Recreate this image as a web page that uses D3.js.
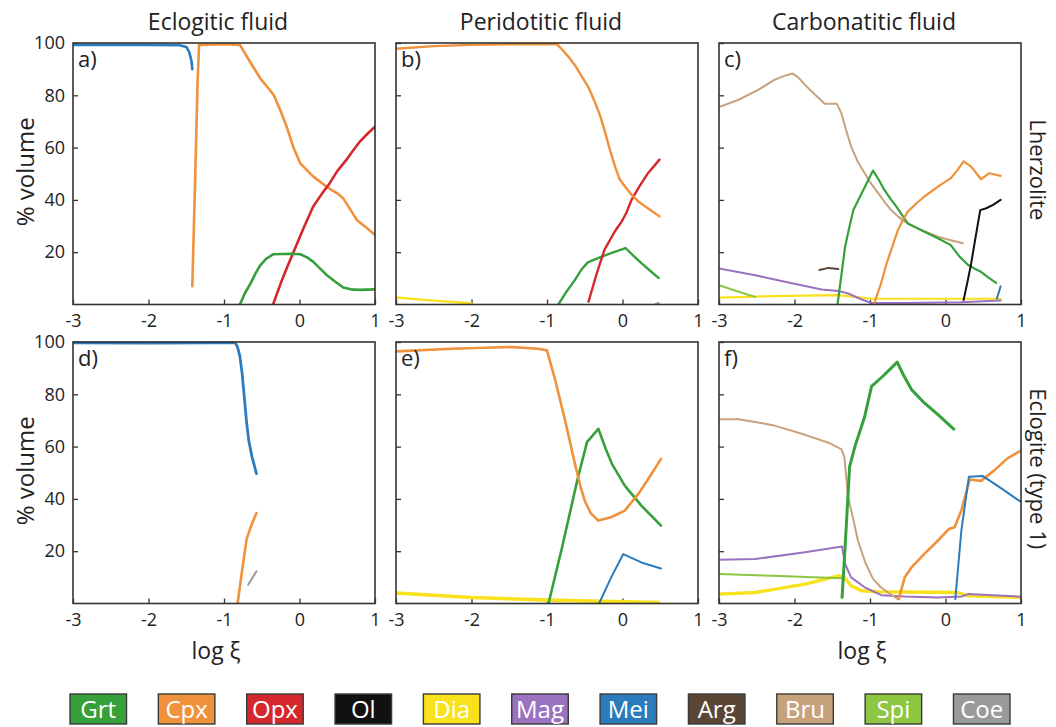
<!DOCTYPE html>
<html>
<head>
<meta charset="utf-8">
<script src="https://cdn.jsdelivr.net/npm/d3@7"></script>
<style>
  html, body { margin: 0; padding: 0; background: #fff; }
  svg text { font-family: "Open Sans", "Noto Sans", sans-serif; fill: #222; }
  .legend text { font-family: "Liberation Sans Narrow", "Open Sans", sans-serif; fill: #fff; }
</style>
</head>
<body>
<svg id="chart" width="1056" height="727"></svg>
<script>
// ---- labels and ticks ----
const columnTitles = ["Eclogitic fluid", "Peridotitic fluid", "Carbonatitic fluid"];
const rowTitles = ["Lherzolite", "Eclogite (type 1)"];
const panelLetters = ["a)", "b)", "c)", "d)", "e)", "f)"];
const xTicks = [-3, -2, -1, 0, 1];
const yTicks = [20, 40, 60, 80, 100];
const phases = ["Grt", "Cpx", "Opx", "Ol", "Dia", "Mag", "Mei", "Arg", "Bru", "Spi", "Coe"];
const phaseColors = ["#36a03b", "#f0913b", "#d4282e", "#111111", "#f9e21b", "#9a72bf", "#2b7bbd", "#5b4636", "#c8a27c", "#8dc641", "#9a9a9a"];

// ---- a) lherzolite + eclogitic fluid: [log xi, % volume] ----
const aMei = [[-3, 99.3], [-2, 99.3], [-1.6, 99.2], [-1.5, 98.5], [-1.46, 96.5], [-1.43, 93], [-1.42, 90]];
const aCpx = [[-1.42, 7], [-1.38, 50], [-1.35, 85], [-1.33, 99.3], [-1.0, 99.5], [-0.79, 99.3], [-0.7, 95], [-0.63, 91.6], [-0.52, 86.5], [-0.42, 83], [-0.34, 80], [-0.25, 74], [-0.17, 68], [-0.08, 60], [0.01, 54], [0.18, 49], [0.36, 45], [0.5, 42.5], [0.58, 40.6], [0.68, 36], [0.76, 32.3], [0.88, 29.5], [1.0, 26.6]];
const aOpx = [[-0.35, 0], [-0.25, 8], [-0.16, 14.5], [-0.08, 20], [0.05, 29], [0.18, 37.4], [0.3, 42.5], [0.40, 46.4], [0.5, 51], [0.62, 55.3], [0.7, 58.5], [0.80, 62.3], [0.9, 65.3], [1.0, 68]];
const aGrt = [[-0.79, 0], [-0.72, 4.5], [-0.65, 8], [-0.58, 12], [-0.52, 15], [-0.44, 17.5], [-0.35, 19.2], [-0.1, 19.4], [0.01, 19.2], [0.1, 18], [0.18, 16.4], [0.27, 13.8], [0.36, 11.3], [0.47, 8.8], [0.58, 6.5], [0.68, 5.8], [0.80, 5.6], [1.0, 5.8]];

// ---- b) lherzolite + peridotitic fluid ----
const bCpx = [[-3, 97.8], [-2.5, 98.8], [-2, 99.3], [-1.5, 99.5], [-0.87, 99.6], [-0.8, 97.5], [-0.72, 94.9], [-0.63, 91.5], [-0.54, 87.2], [-0.45, 83], [-0.37, 77.7], [-0.3, 72.5], [-0.24, 66.8], [-0.17, 59.5], [-0.10, 52.8], [-0.04, 48], [0.03, 45.2], [0.12, 42], [0.21, 39.4], [0.35, 36.5], [0.49, 33.7]];
const bOpx = [[-0.45, 1.1], [-0.35, 11], [-0.24, 20.9], [-0.1, 28], [-0.01, 31.8], [0.05, 35], [0.12, 40], [0.22, 45], [0.34, 50.3], [0.42, 53], [0.49, 55.4]];
const bGrt = [[-0.85, 0], [-0.74, 5], [-0.63, 9.4], [-0.54, 13.5], [-0.46, 16.1], [-0.3, 18], [-0.15, 19.6], [0.04, 21.6], [0.15, 18.5], [0.25, 15.8], [0.37, 12.8], [0.48, 10.1]];
const bDia = [[-3, 2.7], [-2.5, 1.5], [-2, 0.5]];
const bCoe = [[0.44, 0.2], [0.48, 0.6]];

// ---- c) lherzolite + carbonatitic fluid ----
const cBru = [[-3, 75.5], [-2.74, 78.3], [-2.48, 82.1], [-2.26, 86], [-2.1, 87.8], [-2.02, 88.3], [-1.94, 86.5], [-1.86, 84], [-1.72, 80], [-1.60, 76.8], [-1.44, 76.8], [-1.38, 73.2], [-1.32, 67], [-1.25, 60.4], [-1.16, 54.5], [-1.07, 50.2], [-0.98, 46], [-0.89, 42.5], [-0.8, 39], [-0.72, 36.1], [-0.63, 33.7], [-0.54, 31.7], [-0.43, 30], [-0.32, 28.5], [-0.2, 27.1], [-0.10, 25.9], [0.07, 24.6], [0.23, 23.4]];
const cGrt = [[-1.43, 0], [-1.38, 11], [-1.33, 22.1], [-1.27, 30], [-1.22, 36.1], [-1.11, 42.5], [-0.96, 51.2], [-0.88, 47.5], [-0.81, 43.8], [-0.73, 40.5], [-0.65, 37.4], [-0.57, 34], [-0.50, 31], [-0.38, 29.3], [-0.28, 27.8], [-0.10, 25.3], [0.07, 22.7], [0.18, 18.5], [0.30, 15.1], [0.38, 13.8], [0.47, 12.5], [0.57, 10.3], [0.67, 8.3]];
const cCpx = [[-0.95, 0], [-0.86, 7.5], [-0.78, 15.7], [-0.70, 22.5], [-0.63, 28.5], [-0.56, 32.5], [-0.50, 35.5], [-0.38, 38.8], [-0.28, 41.3], [-0.10, 45.1], [0.07, 48.3], [0.16, 51.5], [0.24, 54.7], [0.34, 52.7], [0.47, 47.9], [0.58, 50.2], [0.73, 49.2]];
const cOl = [[0.24, 1.7], [0.29, 8.5], [0.34, 15.7], [0.40, 26], [0.46, 36.1], [0.54, 36.8], [0.63, 38.1], [0.73, 40]];
const cMag = [[-3, 13.8], [-2.52, 11.2], [-2.08, 8.4], [-1.64, 5.7], [-1.42, 5.2], [-1.29, 4.2], [-1.11, 1.9], [-0.98, 0.6], [-0.54, 0.6], [0.2, 0.9], [0.73, 1.5]];
const cSpi = [[-3, 7.4], [-2.74, 4.9], [-2.52, 2.9]];
const cDia = [[-3, 2.6], [-2.3, 3.2], [-1.42, 3.6], [-1.11, 2.6], [-0.98, 2.2], [0.73, 2.2]];
const cArg = [[-1.67, 13.2], [-1.55, 14], [-1.42, 13.6]];
const cMei = [[0.68, 2.3], [0.71, 5], [0.73, 7]];

// ---- d) eclogite + eclogitic fluid ----
const dMei = [[-3, 99.7], [-2, 99.6], [-1.2, 99.7], [-0.85, 99.7], [-0.82, 98], [-0.79, 94.6], [-0.76, 88], [-0.74, 81.8], [-0.70, 69], [-0.67, 62], [-0.63, 56.2], [-0.57, 49.7]];
const dCpx = [[-0.82, 0], [-0.76, 12.6], [-0.70, 24.7], [-0.63, 30.5], [-0.57, 34.6]];
const dCoe = [[-0.68, 7.2], [-0.57, 12.3]];

// ---- e) eclogite + peridotitic fluid ----
const eCpx = [[-3, 96.4], [-2.26, 97.4], [-1.47, 98.1], [-1.12, 97.4], [-1.0, 96.8], [-0.89, 85.3], [-0.76, 70], [-0.63, 53.4], [-0.55, 44], [-0.50, 39.3], [-0.42, 34.5], [-0.32, 31.7], [-0.15, 33], [0.03, 35.5], [0.21, 41.9], [0.36, 48.5], [0.51, 55.3]];
const eGrt = [[-0.98, 0], [-0.80, 21.5], [-0.60, 47], [-0.47, 61.7], [-0.32, 66.8], [-0.22, 59], [-0.14, 53.4], [0.03, 45.1], [0.25, 37.4], [0.51, 29.8]];
const eMei = [[-0.31, 0], [-0.15, 10], [0.01, 18.9], [0.25, 15.7], [0.51, 13.4]];
const eDia = [[-3, 4], [-2, 2.3], [-0.98, 1.3], [0.48, 0.4]];

// ---- f) eclogite + carbonatitic fluid ----
const fBru = [[-3, 70.5], [-2.74, 70.5], [-2.30, 68.3], [-1.86, 64.5], [-1.55, 61.5], [-1.38, 59], [-1.34, 56.2], [-1.29, 40.8], [-1.22, 32], [-1.16, 24.1], [-1.06, 15.5], [-0.96, 9.4], [-0.86, 6.3], [-0.76, 4.2], [-0.63, 1.7]];
const fGrt = [[-1.37, 2.3], [-1.33, 21.5], [-1.27, 52.3], [-1.20, 60], [-1.07, 71.5], [-0.98, 83], [-0.83, 86.9], [-0.64, 92.3], [-0.55, 87], [-0.45, 81.8], [-0.28, 76.7], [-0.10, 72.2], [0.11, 66.7]];
const fCpx = [[-0.62, 1.7], [-0.54, 10], [-0.45, 13.8], [-0.28, 19], [-0.10, 24.1], [0.05, 28.6], [0.12, 29.2], [0.21, 35.6], [0.32, 47.4], [0.47, 46.9], [0.65, 51], [0.82, 55.5], [1.0, 58.5]];
const fMei = [[0.13, 1.7], [0.21, 27.9], [0.31, 48.5], [0.49, 48.8], [0.74, 44], [1.0, 38.8]];
const fMag = [[-3, 16.7], [-2.52, 17], [-1.86, 19.6], [-1.37, 21.8], [-1.33, 15.1], [-1.25, 10], [-1.07, 6.2], [-0.85, 3.2], [-0.54, 2.7], [-0.10, 2.3], [0.21, 2.7], [0.30, 3.6], [1.0, 2.6]];
const fSpi = [[-3, 11.3], [-2.30, 10.6], [-1.38, 9.7]];
const fDia = [[-3, 3.6], [-2.52, 4.2], [-1.86, 7.4], [-1.42, 10.6], [-1.34, 10], [-1.25, 6.8], [-1.11, 4.9], [-0.89, 4.5], [0.16, 4.2], [0.30, 2.9], [1.0, 2.3]];

// series per panel: [data, phase name, stroke width]
const panelSeries = [
  [[aMei, "Mei", 2.6], [aCpx, "Cpx", 2.6], [aOpx, "Opx", 2.6], [aGrt, "Grt", 2.6]],
  [[bDia, "Dia", 2.4], [bCoe, "Coe", 2], [bGrt, "Grt", 2.4], [bOpx, "Opx", 2.4], [bCpx, "Cpx", 2.4]],
  [[cDia, "Dia", 2.2], [cMag, "Mag", 2], [cSpi, "Spi", 2], [cArg, "Arg", 2], [cBru, "Bru", 2], [cGrt, "Grt", 2.2], [cCpx, "Cpx", 2.2], [cOl, "Ol", 2], [cMei, "Mei", 2]],
  [[dMei, "Mei", 2.8], [dCpx, "Cpx", 2.6], [dCoe, "Coe", 2]],
  [[eDia, "Dia", 3.6], [eMei, "Mei", 2], [eGrt, "Grt", 2.6], [eCpx, "Cpx", 2.6]],
  [[fDia, "Dia", 3.4], [fSpi, "Spi", 2], [fMag, "Mag", 2], [fBru, "Bru", 2], [fCpx, "Cpx", 2.6], [fMei, "Mei", 2], [fGrt, "Grt", 3]]
];

const colorOf = d3.scaleOrdinal().domain(phases).range(phaseColors);

// ---- layout ----
const svg = d3.select("#chart");
const panelW = 302, panelH = 261.5;
const colX = [73, 396, 719];
const rowY = [43, 342];

const x = d3.scaleLinear().domain([-3, 1]).range([0, panelW]);
const y = d3.scaleLinear().domain([0, 100]).range([panelH, 0]);
const line = d3.line().x(d => x(d[0])).y(d => y(d[1]));

panelSeries.forEach((series, i) => {
  const col = i % 3, row = Math.floor(i / 3);
  const g = svg.append("g").attr("transform", `translate(${colX[col]},${rowY[row]})`);

  g.append("clipPath").attr("id", `clip${i}`)
    .append("rect").attr("x", 0).attr("y", -2).attr("width", panelW).attr("height", panelH + 2);

  // axes with inward ticks
  const xAxis = d3.axisBottom(x).tickValues(xTicks).tickSize(-5).tickPadding(10).tickFormat(d3.format("d"));
  const gx = g.append("g").attr("transform", `translate(0,${panelH})`).call(xAxis);
  const yAxis = d3.axisLeft(y).tickValues(yTicks).tickSize(-5).tickPadding(8)
    .tickFormat(col === 0 ? d3.format("d") : () => "");
  const gy = g.append("g").call(yAxis);
  [gx, gy].forEach(a => {
    a.select(".domain").remove();
    a.selectAll(".tick line").attr("stroke", "#333").attr("stroke-width", 1.3);
    a.selectAll(".tick text").style("font-size", "18px").attr("fill", "#222");
  });
  gx.selectAll(".tick text").text(d => d < 0 ? "-" + Math.abs(d) : d);

  const plot = g.append("g").attr("clip-path", `url(#clip${i})`);
  series.forEach(([data, name, w]) => {
    plot.append("path").datum(data)
      .attr("d", line)
      .attr("fill", "none")
      .attr("stroke", colorOf(name))
      .attr("stroke-width", w)
      .attr("stroke-linejoin", "round")
      .attr("stroke-linecap", "round");
  });

  // frame
  g.append("rect").attr("width", panelW).attr("height", panelH)
    .attr("fill", "none").attr("stroke", "#333").attr("stroke-width", 1.6);

  g.append("text").attr("x", 5).attr("y", 24)
    .style("font-size", "22px").text(panelLetters[i]);
});

// column titles
columnTitles.forEach((t, c) => {
  svg.append("text").attr("x", colX[c] + panelW / 2 - 6).attr("y", 30)
    .attr("text-anchor", "middle").style("font-size", "23px").text(t);
});

// y-axis titles
rowY.forEach(top => {
  svg.append("text")
    .attr("transform", `translate(34,${top + panelH / 2 - 2}) rotate(-90)`)
    .attr("text-anchor", "middle").style("font-size", "24px").text("% volume");
});

// row titles on the right
rowTitles.forEach((t, r) => {
  svg.append("text")
    .attr("transform", `translate(1030,${rowY[r] + panelH / 2 - 4}) rotate(90)`)
    .attr("text-anchor", "middle").style("font-size", "22px").text(t);
});

// x-axis titles under first and last column
[0, 2].forEach(c => {
  svg.append("text").attr("x", colX[c] + panelW / 2 - 8).attr("y", 659)
    .attr("text-anchor", "middle").style("font-size", "23px").text("log ξ");
});

// legend
const legend = svg.append("g").attr("class", "legend");
const lx = d3.scaleBand().domain(phases).range([70, 1010]).paddingInner(0.36);
phases.forEach(p => {
  const gl = legend.append("g").attr("transform", `translate(${lx(p)},694)`);
  gl.append("rect").attr("width", lx.bandwidth()).attr("height", 30)
    .attr("fill", colorOf(p)).attr("stroke", "#3a3a3a").attr("stroke-width", 1.4);
  gl.append("text").attr("x", lx.bandwidth() / 2).attr("y", 24)
    .attr("text-anchor", "middle").style("font-size", "24px").text(p);
});
</script>
</body>
</html>
